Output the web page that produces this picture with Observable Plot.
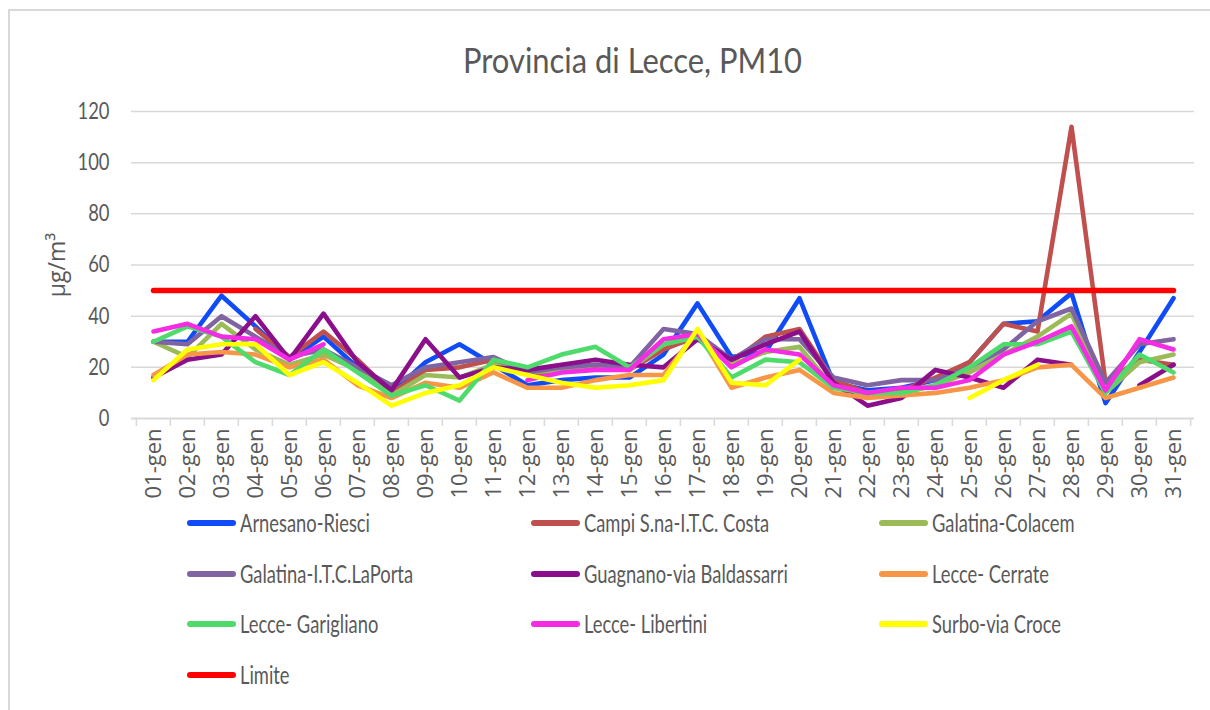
<!DOCTYPE html>
<html>
<head>
<meta charset="utf-8">
<script src="https://cdn.jsdelivr.net/npm/d3@7"></script>
<script src="https://cdn.jsdelivr.net/npm/@observablehq/plot@0.6"></script>
<style>
  body { margin: 0; background: #fff; }
  #wrap { position: relative; width: 1210px; height: 710px; background: #fff; overflow: hidden; }
  .hum { font-family: Lato, 'Open Sans', sans-serif; color: #595959; }
  #title { position: absolute; left: 332px; width: 600px; top: 42px; text-align: center; font-size: 34px; line-height: 35px; white-space: nowrap; }
  #title span { display: inline-block; transform-origin: center center; }
  .item { position: absolute; height: 24px; font-size: 25px; line-height: 24px; white-space: nowrap; }
  .sw { position: absolute; left: 0; top: 10px; width: 49px; height: 6px; border-radius: 3px; }
  .lbl { position: absolute; left: 53px; top: 0; transform-origin: left center; }
</style>
</head>
<body>
<div id="wrap">
  <div style="position:absolute;left:8px;top:9px;right:0;height:2px;background:#D9D9D9"></div>
  <div style="position:absolute;left:8px;top:9px;bottom:0;width:2px;background:#D9D9D9"></div>
  <div id="title" class="hum"><span id="titleText">Provincia di Lecce, PM10</span></div>
  <div id="chart" style="position:absolute;left:0;top:90px"></div>
  <div id="legend"></div>
</div>
<script>
const days = ["01-gen","02-gen","03-gen","04-gen","05-gen","06-gen","07-gen","08-gen","09-gen","10-gen",
  "11-gen","12-gen","13-gen","14-gen","15-gen","16-gen","17-gen","18-gen","19-gen","20-gen",
  "21-gen","22-gen","23-gen","24-gen","25-gen","26-gen","27-gen","28-gen","29-gen","30-gen","31-gen"];

const seriesNames = ["Arnesano-Riesci","Campi S.na-I.T.C. Costa","Galatina-Colacem",
  "Galatina-I.T.C.LaPorta","Guagnano-via Baldassarri","Lecce- Cerrate",
  "Lecce- Garigliano","Lecce- Libertini","Surbo-via Croce","Limite"];
const seriesColors = ["#0F4CF7","#C0504D","#9BBB59","#8064A2","#8B0E8B","#F79646","#4FDB6B","#F52CE3","#FFFF00","#FF0000"];

const arnesano  = [30,30,48,36,23,32,20,10,22,29,21,13,15,16,16,25,45,24,26,47,14,11,12,15,22,37,38,49,6,26,47];
const campi     = [null,null,null,35,24,34,23,10,19,20,23,17,19,20,19,27,32,22,32,35,15,10,11,16,22,37,34,114,14,23,21];
const colacem   = [30,24,37,27,21,25,19,9,17,16,21,18,19,21,19,29,32,21,26,28,12,9,10,13,18,25,32,41,10,22,25];
const laporta   = [30,29,40,32,24,27,20,13,20,22,24,18,20,21,20,35,33,23,31,31,16,13,15,15,20,27,38,43,14,29,31];
const guagnano  = [16,23,25,40,23,41,22,11,31,16,20,19,21,23,21,20,31,23,29,34,14,5,8,19,16,12,23,21,null,13,21];
const cerrate   = [17,25,26,25,20,23,13,8,14,12,18,12,12,15,17,17,34,12,16,19,10,8,9,10,12,15,20,21,8,12,16];
const garigliano= [30,36,32,22,17,27,18,9,13,7,23,20,25,28,20,29,32,16,23,22,12,10,10,13,20,29,29,34,10,25,18];
const libertini = [34,37,32,31,23,29,null,null,null,null,null,15,18,19,19,31,33,20,27,25,13,10,12,12,15,25,30,36,11,31,27];
const surbo     = [15,27,29,29,17,22,14,5,10,13,20,17,14,12,13,15,35,14,13,23,null,null,null,null,8,15,21,null,null,null,null];
const limite    = days.map(() => 50);

const yTicks = [0,20,40,60,80,100,120];
const allValues = [arnesano,campi,colacem,laporta,guagnano,cerrate,garigliano,libertini,surbo,limite];

const hum = "Lato, 'Open Sans', sans-serif";
const wide = "'Open Sans', 'DejaVu Sans', sans-serif";

const W = 1210, H = 430, mL = 131, mR = 16, mT = 21, mB = 102;
const step = (W - mL - mR) / days.length;

const lineMarks = allValues.map((vals, k) => {
  const rows = days.map((d, i) => ({day: d, value: vals[i]}));
  return Plot.line(rows, {
    x: "day", y: "value",
    stroke: seriesColors[k],
    strokeWidth: k === 9 ? 5.5 : 4.6,
    strokeLinejoin: "round", strokeLinecap: "round"
  });
});

const chart = Plot.plot({
  width: W, height: H,
  marginLeft: mL, marginRight: mR, marginTop: mT, marginBottom: mB,
  x: {type: "point", domain: days, padding: 0.5},
  y: {domain: [0, 120]},
  style: {background: "transparent", overflow: "visible"},
  marks: [
    Plot.ruleY(yTicks.filter(t => t > 0), {stroke: "#D9D9D9", strokeWidth: 1.5}),
    Plot.ruleY([0], {stroke: "#D9D9D9", strokeWidth: 2}),
    Plot.ruleX(days, {x: d => d, y1: 0, y2: -3.1, dx: -step / 2, stroke: "#D9D9D9", strokeWidth: 1.5}),
    Plot.ruleX([days[days.length - 1]], {x: d => d, y1: 0, y2: -3.1, dx: step / 2, stroke: "#D9D9D9", strokeWidth: 1.5}),
    ...lineMarks,
    Plot.axisY({ticks: yTicks, tickSize: 0, tickPadding: 22, fontSize: 23, fontFamily: hum, fill: "#595959", label: null}),
    Plot.axisX({tickRotate: -90, tickSize: 0, tickPadding: 10, fontSize: 22, fontFamily: wide, fill: "#595959", label: null}),
    Plot.text(["µg/m³"], {text: d => d, frameAnchor: "left", textAnchor: "middle", lineAnchor: "middle", dx: -74, rotate: -90, fontSize: 23, fontFamily: wide, fill: "#595959"})
  ]
});
document.getElementById("chart").appendChild(chart);

// condense y tick labels (narrow face in the reference), keeping their right edge fixed
const yTexts = chart.querySelectorAll('g[aria-label="y-axis tick label"] text');
let w120 = 0;
yTexts.forEach(t => { if (t.textContent === "120") w120 = t.getBBox().width; });
const ky = w120 > 0 ? 32 / w120 : 0.85;
yTexts.forEach(t => {
  const bb = t.getBBox();
  const ax = bb.x + bb.width;
  const prev = t.getAttribute("transform") || "";
  t.setAttribute("transform", `${prev} translate(${ax},0) scale(${ky},1) translate(${-ax},0)`);
});

// title condensed
const tt = document.getElementById("titleText");
const tw = tt.getBoundingClientRect().width;
tt.style.transform = `scaleX(${339 / tw})`;

// legend (HTML, below the svg)
const legend = document.getElementById("legend");
const colX = [187, 531, 879];
const rowTop = [510, 561, 611, 662];
const labels = [];
seriesNames.forEach((name, k) => {
  const item = document.createElement("div");
  item.className = "item hum";
  item.style.left = colX[k % 3] + "px";
  item.style.top = rowTop[Math.floor(k / 3)] + "px";
  const sw = document.createElement("div");
  sw.className = "sw";
  sw.style.background = seriesColors[k];
  const lbl = document.createElement("span");
  lbl.className = "lbl";
  lbl.textContent = name;
  item.appendChild(sw);
  item.appendChild(lbl);
  legend.appendChild(item);
  labels.push(lbl);
});
const lw = labels[0].getBoundingClientRect().width;
const kl = lw > 0 ? 130 / lw : 0.78;
labels.forEach(l => { l.style.transform = `scaleX(${kl})`; });
</script>
</body>
</html>
